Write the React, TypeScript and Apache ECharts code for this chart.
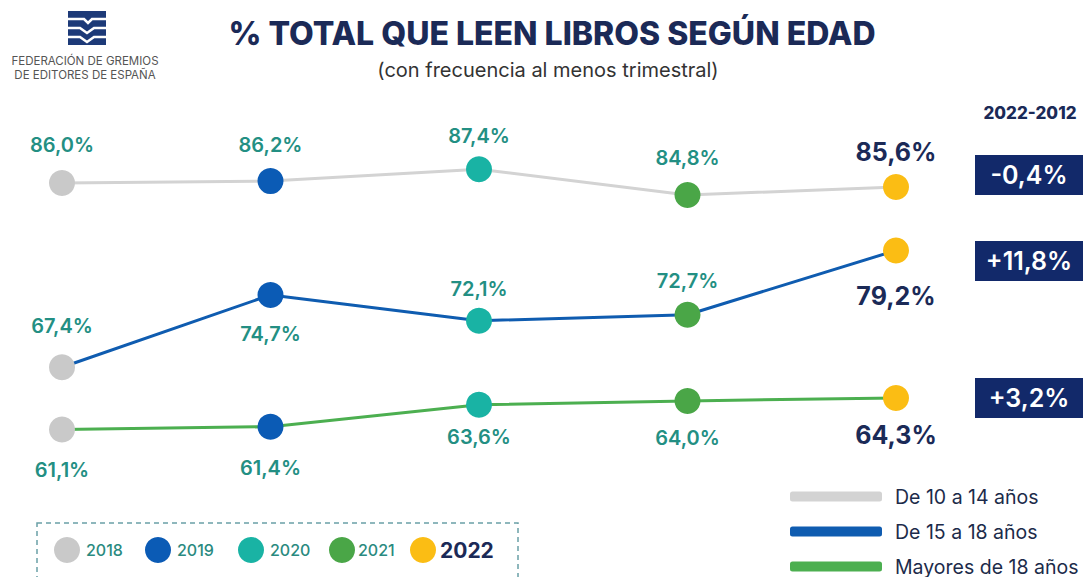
import React, { useEffect, useRef } from "react";
import * as echarts from "echarts";

const years = ["2018", "2019", "2020", "2021", "2022"];
const yearColors = ["#c9c9c9", "#0b5bb5", "#19b3a4", "#4aa647", "#fbbd14"];
const seriesNames = ["De 10 a 14 años", "De 15 a 18 años", "Mayores de 18 años"];
const lineColors = ["#d3d3d3", "#0f5cb0", "#4caf50"];
const age10to14 = [86.0, 86.2, 87.4, 84.8, 85.6];
const age15to18 = [67.4, 74.7, 72.1, 72.7, 79.2];
const age18plus = [61.1, 61.4, 63.6, 64.0, 64.3];
const changeLabels = ["-0,4%", "+11,8%", "+3,2%"];
const changeTitle = "2022-2012";

// label placement (layout only)
const labelLayout = [
  [["top", 15], ["top", 13], ["top", 10], ["top", 14], ["top", 10]],
  [["top", 18], ["bottom", 16], ["top", 9], ["top", 11], ["bottom", 20]],
  [["bottom", 17], ["bottom", 18], ["bottom", 9], ["bottom", 14], ["bottom", 12]],
];

const NAVY = "#1b2a57";
const TEAL = "#238f83";
const FONT = "Inter, 'Open Sans', sans-serif";

const fmt = (v: number) => v.toFixed(1).replace(".", ",") + "%";

function buildSeries(name: string, values: number[], idx: number) {
  return {
    type: "line",
    name,
    data: values.map((v, i) => {
      const last = i === values.length - 1;
      return {
        value: v,
        itemStyle: { color: yearColors[i] },
        label: {
          position: labelLayout[idx][i][0],
          distance: labelLayout[idx][i][1],
          color: last ? NAVY : TEAL,
          fontSize: last ? 25 : 20,
          fontWeight: last ? 700 : 600,
        },
      };
    }),
    symbol: "circle",
    symbolSize: 26,
    lineStyle: { color: lineColors[idx], width: 3 },
    itemStyle: { color: lineColors[idx], borderWidth: 0 },
    label: {
      show: true,
      fontFamily: FONT,
      formatter: (p: any) => fmt(p.value),
    },
    z: 3,
  };
}

export default function App() {
  const ref = useRef<HTMLDivElement>(null);
  useEffect(() => {
    if (!ref.current) return;
    const chart = echarts.init(ref.current, undefined, { renderer: "svg" });
    const boxTops = [155, 241, 378];
    const legendX = [67, 158, 251, 342, 423];
    const legendTextX = [86, 177, 270, 358, 440];
    const graphic: any[] = [
      // logo
      { type: "rect", shape: { x: 68, y: 11, width: 38, height: 34 }, style: { fill: "#1d3a78" } },
      { type: "polyline", shape: { points: [[68, 19], [84, 19], [88, 23], [92, 19], [106, 19]] }, style: { stroke: "#fff", lineWidth: 2.5, fill: null } },
      { type: "polyline", shape: { points: [[68, 28], [80, 28], [87, 33], [94, 28], [106, 28]] }, style: { stroke: "#fff", lineWidth: 2.5, fill: null } },
      { type: "polyline", shape: { points: [[68, 37], [80, 37], [87, 42], [94, 37], [106, 37]] }, style: { stroke: "#fff", lineWidth: 2.5, fill: null } },
      { type: "text", x: 85, y: 61, style: { text: "FEDERACIÓN DE GREMIOS", fontSize: 11.5, fill: "#555", fontFamily: FONT, textAlign: "center", textVerticalAlign: "middle" } },
      { type: "text", x: 85, y: 75, style: { text: "DE EDITORES DE ESPAÑA", fontSize: 11.5, fill: "#555", fontFamily: FONT, textAlign: "center", textVerticalAlign: "middle" } },
      // title
      { type: "text", x: 552, y: 33, style: { text: "% TOTAL QUE LEEN LIBROS SEGÚN EDAD", fontSize: 32, fontWeight: 800, fill: NAVY, fontFamily: FONT, textAlign: "center", textVerticalAlign: "middle" } },
      { type: "text", x: 548, y: 70, style: { text: "(con frecuencia al menos trimestral)", fontSize: 20, fill: "#333", fontFamily: FONT, textAlign: "center", textVerticalAlign: "middle" } },
      // change column
      { type: "text", x: 1030, y: 113, style: { text: changeTitle, fontSize: 17, fontWeight: 800, fill: NAVY, fontFamily: FONT, textAlign: "center", textVerticalAlign: "middle" } },
      // year legend
      { type: "rect", shape: { x: 37, y: 523, width: 481, height: 70 }, style: { fill: null, stroke: "#6aa0a6", lineWidth: 1.5, lineDash: [5, 4] } },
    ];
    changeLabels.forEach((t, i) => {
      graphic.push({ type: "rect", shape: { x: 975, y: boxTops[i], width: 108, height: 40 }, style: { fill: "#12296a" } });
      graphic.push({ type: "text", x: 1029, y: boxTops[i] + 20, style: { text: t, fontSize: 25, fontWeight: 600, fill: "#fff", fontFamily: FONT, textAlign: "center", textVerticalAlign: "middle" } });
    });
    years.forEach((y, i) => {
      const last = i === years.length - 1;
      graphic.push({ type: "circle", shape: { cx: legendX[i], cy: 550, r: 13 }, style: { fill: yearColors[i] } });
      graphic.push({ type: "text", x: legendTextX[i], y: 550, style: { text: y, fontSize: last ? 21 : 16, fontWeight: last ? 700 : 500, fill: last ? NAVY : "#2a8a80", fontFamily: FONT, textVerticalAlign: "middle" } });
    });

    chart.setOption({
      animation: false,
      backgroundColor: "#fff",
      grid: { left: 62, right: 192, top: 94, bottom: 87 },
      xAxis: { type: "category", data: years, boundaryGap: false, show: false },
      yAxis: { type: "value", min: 55, max: 95, show: false },
      legend: {
        orient: "vertical",
        left: 790,
        top: 486,
        height: 100,
        padding: 0,
        icon: "roundRect",
        itemWidth: 92,
        itemHeight: 10,
        itemGap: 14,
        selectedMode: false,
        textStyle: { fontSize: 19.5, color: "#1c2b4a", fontFamily: FONT, lineHeight: 21, padding: [0, 0, 0, 8] },
        data: seriesNames.map((n, i) => ({ name: n, itemStyle: { color: lineColors[i], borderWidth: 0 } })),
      },
      series: [
        buildSeries(seriesNames[0], age10to14, 0),
        buildSeries(seriesNames[1], age15to18, 1),
        buildSeries(seriesNames[2], age18plus, 2),
      ],
      graphic,
    });
    return () => chart.dispose();
  }, []);
  return <div ref={ref} style={{ position: "fixed", left: 0, top: 0, width: 1088, height: 577 }} />;
}
